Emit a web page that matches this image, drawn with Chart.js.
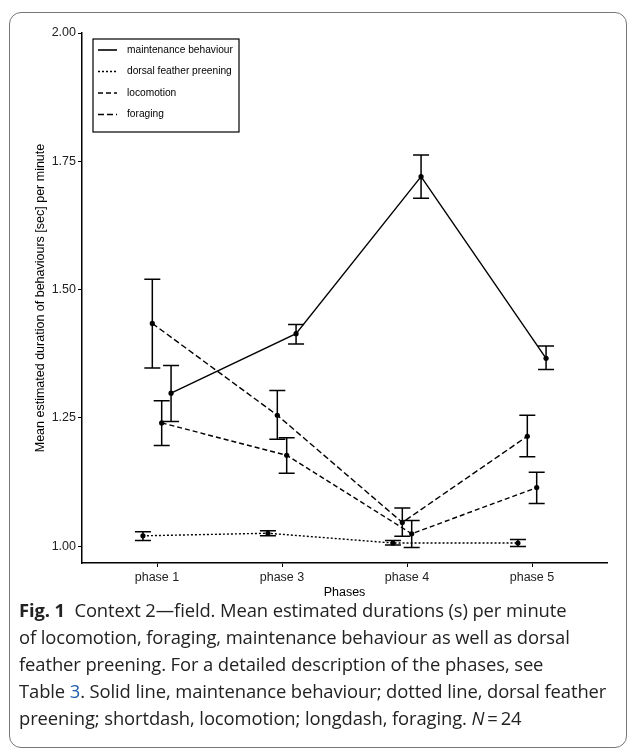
<!DOCTYPE html>
<html>
<head>
<meta charset="utf-8">
<script src="https://cdn.jsdelivr.net/npm/chart.js@4"></script>
<style>
  body { margin: 0; background: #fff; width: 629px; height: 755px; overflow: hidden; position: relative; }
  #frame { position: absolute; left: 9px; top: 12px; width: 616px; height: 734px; border: 1.5px solid #777; border-radius: 12px; }
  #wrap { position: absolute; left: 0; top: 0; width: 629px; height: 600px; }
  #caption { position: absolute; left: 19px; top: 596px; width: 605px; font-family: "Open Sans", "Noto Sans", sans-serif; font-size: 18.4px; line-height: 27px; color: #222; white-space: nowrap; letter-spacing: -0.1px; }
  #caption b { font-weight: 700; }
  #caption .lnk { color: #1f5fae; }
</style>
</head>
<body>
<div id="frame"></div>
<div id="wrap"><canvas id="myChart" width="629" height="600"></canvas></div>
<div id="caption">
  <b>Fig. 1</b>&nbsp; Context 2—field. Mean estimated durations (s) per minute<br>
  of locomotion, foraging, maintenance behaviour as well as dorsal<br>
  feather preening. For a detailed description of the phases, see<br>
  Table <span class="lnk">3</span>. Solid line, maintenance behaviour; dotted line, dorsal feather<br>
  preening; shortdash, locomotion; longdash, foraging. <i>N</i>&thinsp;=&thinsp;24
</div>
<script>
// Les donnees du graphique
const phases = ['phase 1', 'phase 3', 'phase 4', 'phase 5'];
const yTicks = [1.00, 1.25, 1.50, 1.75, 2.00];

const maintenance = [1.298, 1.414, 1.720, 1.366];
const maintenanceLow = [1.243, 1.394, 1.678, 1.344];
const maintenanceHigh = [1.352, 1.432, 1.762, 1.390];

const dorsal = [1.020, 1.025, 1.006, 1.006];
const dorsalLow = [1.011, 1.020, 1.002, 0.999];
const dorsalHigh = [1.028, 1.030, 1.011, 1.013];

const locomotion = [1.240, 1.177, 1.024, 1.114];
const locomotionLow = [1.196, 1.142, 0.997, 1.083];
const locomotionHigh = [1.283, 1.211, 1.050, 1.144];

const foraging = [1.434, 1.255, 1.046, 1.214];
const foragingLow = [1.347, 1.208, 1.019, 1.174];
const foragingHigh = [1.520, 1.303, 1.074, 1.255];

// decalage (dodge) comme dans ggplot
const dodgeWidth = 0.3;
const nGroups = 4;
function dodge(g) {
    return -dodgeWidth / 2 + dodgeWidth / nGroups * (g + 0.5);
}

function makeSet(label, values, low, high, dash, group) {
    return {
        label: label,
        data: values.map((v, i) => ({ x: i + 1 + dodge(group), y: v })),
        low: low,
        high: high,
        borderColor: '#000',
        backgroundColor: '#000',
        borderWidth: 1.4,
        borderDash: dash,
        pointRadius: 2.6,
        pointHoverRadius: 2.6,
        pointBorderWidth: 0,
        tension: 0,
        fill: false
    };
}

const datasets = [
    makeSet('maintenance behaviour', maintenance, maintenanceLow, maintenanceHigh, [], 3),
    makeSet('dorsal feather preening', dorsal, dorsalLow, dorsalHigh, [2, 2], 0),
    makeSet('locomotion', locomotion, locomotionLow, locomotionHigh, [5, 3], 2),
    makeSet('foraging', foraging, foragingLow, foragingHigh, [6, 3], 1)
];

// barres d'erreur
const errorBars = {
    id: 'errorBars',
    afterDatasetsDraw(chart) {
        const ctx = chart.ctx;
        const xs = chart.scales.x, ys = chart.scales.y;
        ctx.save();
        ctx.strokeStyle = '#000';
        ctx.lineWidth = 1.5;
        ctx.setLineDash([]);
        chart.data.datasets.forEach(ds => {
            ds.data.forEach((p, i) => {
                const x = xs.getPixelForValue(p.x);
                const y1 = ys.getPixelForValue(ds.low[i]);
                const y2 = ys.getPixelForValue(ds.high[i]);
                ctx.beginPath();
                ctx.moveTo(x, y1); ctx.lineTo(x, y2);
                ctx.moveTo(x - 8, y1); ctx.lineTo(x + 8, y1);
                ctx.moveTo(x - 8, y2); ctx.lineTo(x + 8, y2);
                ctx.stroke();
            });
        });
        ctx.restore();
    }
};

// legende encadree dans le graphique
const boxLegend = {
    id: 'boxLegend',
    afterDraw(chart) {
        const ctx = chart.ctx;
        ctx.save();
        ctx.strokeStyle = '#000';
        ctx.lineWidth = 1.2;
        ctx.setLineDash([]);
        ctx.strokeRect(93, 39, 146, 93);
        ctx.font = '10.2px "Liberation Sans", Arial, sans-serif';
        ctx.fillStyle = '#000';
        ctx.textBaseline = 'middle';
        chart.data.datasets.forEach((ds, i) => {
            const y = 50 + i * 21.5;
            ctx.beginPath();
            ctx.lineWidth = 1.6;
            ctx.setLineDash(ds.borderDash);
            ctx.moveTo(98, y); ctx.lineTo(117, y);
            ctx.stroke();
            ctx.setLineDash([]);
            ctx.fillText(ds.label, 127, y);
        });
        ctx.restore();
    }
};

new Chart(document.getElementById('myChart'), {
    type: 'line',
    data: { datasets: datasets },
    plugins: [errorBars, boxLegend],
    options: {
        responsive: false,
        animation: false,
        layout: { padding: { left: 31, top: 33, right: 22, bottom: 0 } },
        plugins: { legend: { display: false }, tooltip: { enabled: false } },
        scales: {
            x: {
                type: 'linear',
                min: 0.4,
                max: 4.6,
                afterBuildTicks: s => { s.ticks = phases.map((p, i) => ({ value: i + 1 })); },
                afterFit: s => { s.height = 37; },
                ticks: {
                    callback: (v, i) => phases[i],
                    color: '#222',
                    font: { family: '"Liberation Sans", Arial, sans-serif', size: 12.5 },
                    padding: 3,
                    maxRotation: 0
                },
                grid: { drawOnChartArea: false, drawTicks: true, tickLength: 4, color: '#000' },
                border: { display: true, color: '#000', width: 1.5 },
                title: {
                    display: true,
                    text: 'Phases',
                    color: '#000',
                    font: { family: '"Liberation Sans", Arial, sans-serif', size: 12.5 },
                    padding: 0
                }
            },
            y: {
                type: 'linear',
                min: 0.967,
                max: 2.0,
                afterBuildTicks: s => { s.ticks = yTicks.map(v => ({ value: v })); },
                afterFit: s => { s.width = 51; },
                ticks: {
                    callback: v => v.toFixed(2),
                    color: '#222',
                    font: { family: '"Liberation Sans", Arial, sans-serif', size: 12.5 },
                    padding: 2
                },
                grid: { drawOnChartArea: false, drawTicks: true, tickLength: 4, color: '#000' },
                border: { display: true, color: '#000', width: 1.5 },
                title: {
                    display: true,
                    text: 'Mean estimated duration of behaviours [sec] per minute',
                    color: '#000',
                    font: { family: '"Liberation Sans", Arial, sans-serif', size: 12.5 },
                    padding: { top: 2, bottom: 0 }
                }
            }
        }
    }
});
</script>
</body>
</html>
